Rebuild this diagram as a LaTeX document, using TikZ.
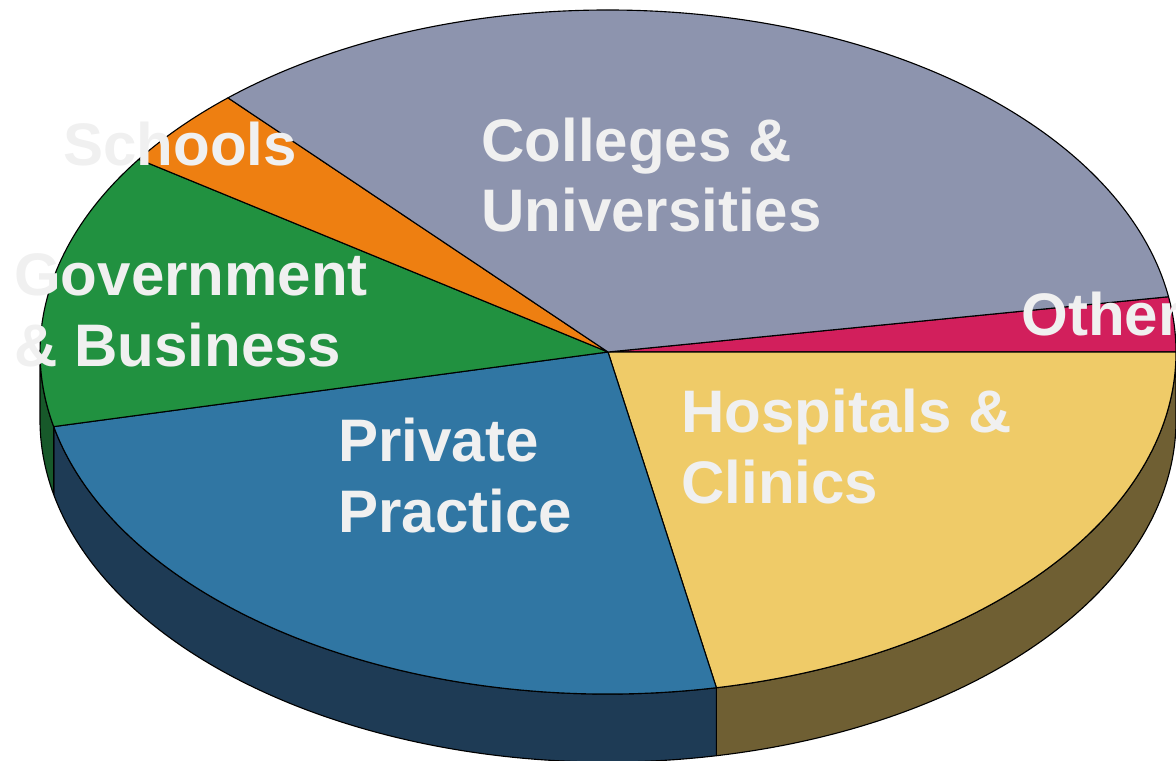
\documentclass[tikz,border=0pt]{standalone}
\usepackage{fontspec}
\setmainfont{Liberation Sans}

\definecolor{colleges}{HTML}{8D94AE}
\definecolor{other}{HTML}{D21F5C}
\definecolor{hospitals}{HTML}{EFCB68}
\definecolor{hospitalsdark}{HTML}{6F5F33}
\definecolor{private}{HTML}{3076A3}
\definecolor{privatedark}{HTML}{1E3B55}
\definecolor{government}{HTML}{219140}
\definecolor{governmentdark}{HTML}{17592A}
\definecolor{schools}{HTML}{EE7F11}
\definecolor{labeltext}{HTML}{F0F0F0}

\tikzset{
    slice/.style = {draw = black, line width = .8pt, line join = round},
    slicelabel/.style = {anchor = base west, align = left, inner sep = 0pt, text = labeltext,
        font = \fontsize{42.7}{49.8}\selectfont\bfseries}
}

\begin{document}
\begin{tikzpicture}[x = .025cm, y = -.025cm]
    \useasboundingbox (0, 0) rectangle (1176, 761);
    \clip (0, 0) rectangle (1176, 761);
    \coordinate (c) at (608, 352);

    % side of the pie
    \foreach \from/\to/\col in {0/79/hospitalsdark, 79/167.4/privatedark, 167.4/180/governmentdark}
        \filldraw[slice, fill = \col] (c) ++(\from:568 and 342)
            arc[start angle = \from, end angle = \to, x radius = 568, y radius = 342]
            -- ++(0, 68)
            arc[start angle = \to, end angle = \from, x radius = 568, y radius = 342] -- cycle;

    % top of the pie
    \foreach \from/\to/\col in {-9.3/0/other, 0/79/hospitals, 79/167.4/private,
                                167.4/214.3/government, 214.3/228/schools, 228/350.7/colleges}
        \filldraw[slice, fill = \col] (c) -- ++(\from:568 and 342)
            arc[start angle = \from, end angle = \to, x radius = 568, y radius = 342] -- cycle;

    % base anchor sits on the last line
    \node[slicelabel] (colleges) at (481, 232) {Colleges \&\\Universities};
    \node[slicelabel] (schools) at (63, 166) {Schools};
    \node[slicelabel] (government) at (14, 366) {Government\\\& Business};
    \node[slicelabel] (private) at (338, 532) {Private\\Practice};
    \node[slicelabel] (hospitals) at (681, 503) {Hospitals \&\\Clinics};
    \node[slicelabel] (other) at (1021, 335) {Other};
\end{tikzpicture}
\end{document}
